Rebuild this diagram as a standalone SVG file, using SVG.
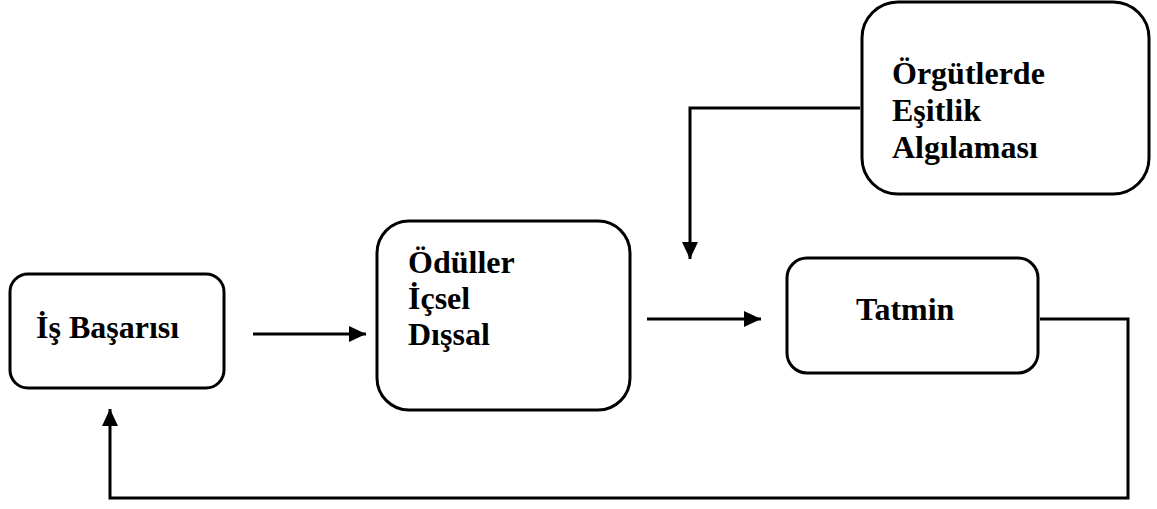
<svg xmlns="http://www.w3.org/2000/svg" width="1157" height="509" viewBox="0 0 1157 509">
<defs>
<style>
.box{fill:#fff;stroke:#000;stroke-width:3}
.lbl{font-family:"Liberation Serif","Times New Roman",serif;font-weight:bold;font-size:32px;fill:#000}
.con{fill:none;stroke:#000;stroke-width:3}
</style>
<marker id="ah" markerUnits="userSpaceOnUse" markerWidth="17" markerHeight="16" refX="17" refY="8" orient="auto">
<path d="M0,0 L17,8 L0,16 Z" fill="#000"/>
</marker>
</defs>
<rect width="1157" height="509" fill="#fff"/>
<g id="connectors">
<line class="con" x1="253" y1="334" x2="366" y2="334" marker-end="url(#ah)"/>
<line class="con" x1="647" y1="319" x2="761" y2="319" marker-end="url(#ah)"/>
<path class="con" d="M860,108 H690 V259" marker-end="url(#ah)"/>
<path class="con" d="M1040,319 H1128 V498 H110 V409" marker-end="url(#ah)"/>
</g>
<g id="node-is-basarisi">
<rect class="box" x="10" y="274" width="214" height="114" rx="18"/>
<text class="lbl" x="36" y="338">İş Başarısı</text>
</g>
<g id="node-oduller">
<rect class="box" x="377" y="221" width="253" height="189" rx="32"/>
<text class="lbl" x="408" y="273">Ödüller</text>
<text class="lbl" x="408" y="309">İçsel</text>
<text class="lbl" x="408" y="345">Dışsal</text>
</g>
<g id="node-orgutlerde">
<rect class="box" x="862" y="2" width="287" height="192" rx="36"/>
<text class="lbl" x="892" y="84">Örgütlerde</text>
<text class="lbl" x="892" y="121">Eşitlik</text>
<text class="lbl" x="892" y="158">Algılaması</text>
</g>
<g id="node-tatmin">
<rect class="box" x="787" y="258" width="251" height="115" rx="20"/>
<text class="lbl" x="856" y="320">Tatmin</text>
</g>
</svg>
